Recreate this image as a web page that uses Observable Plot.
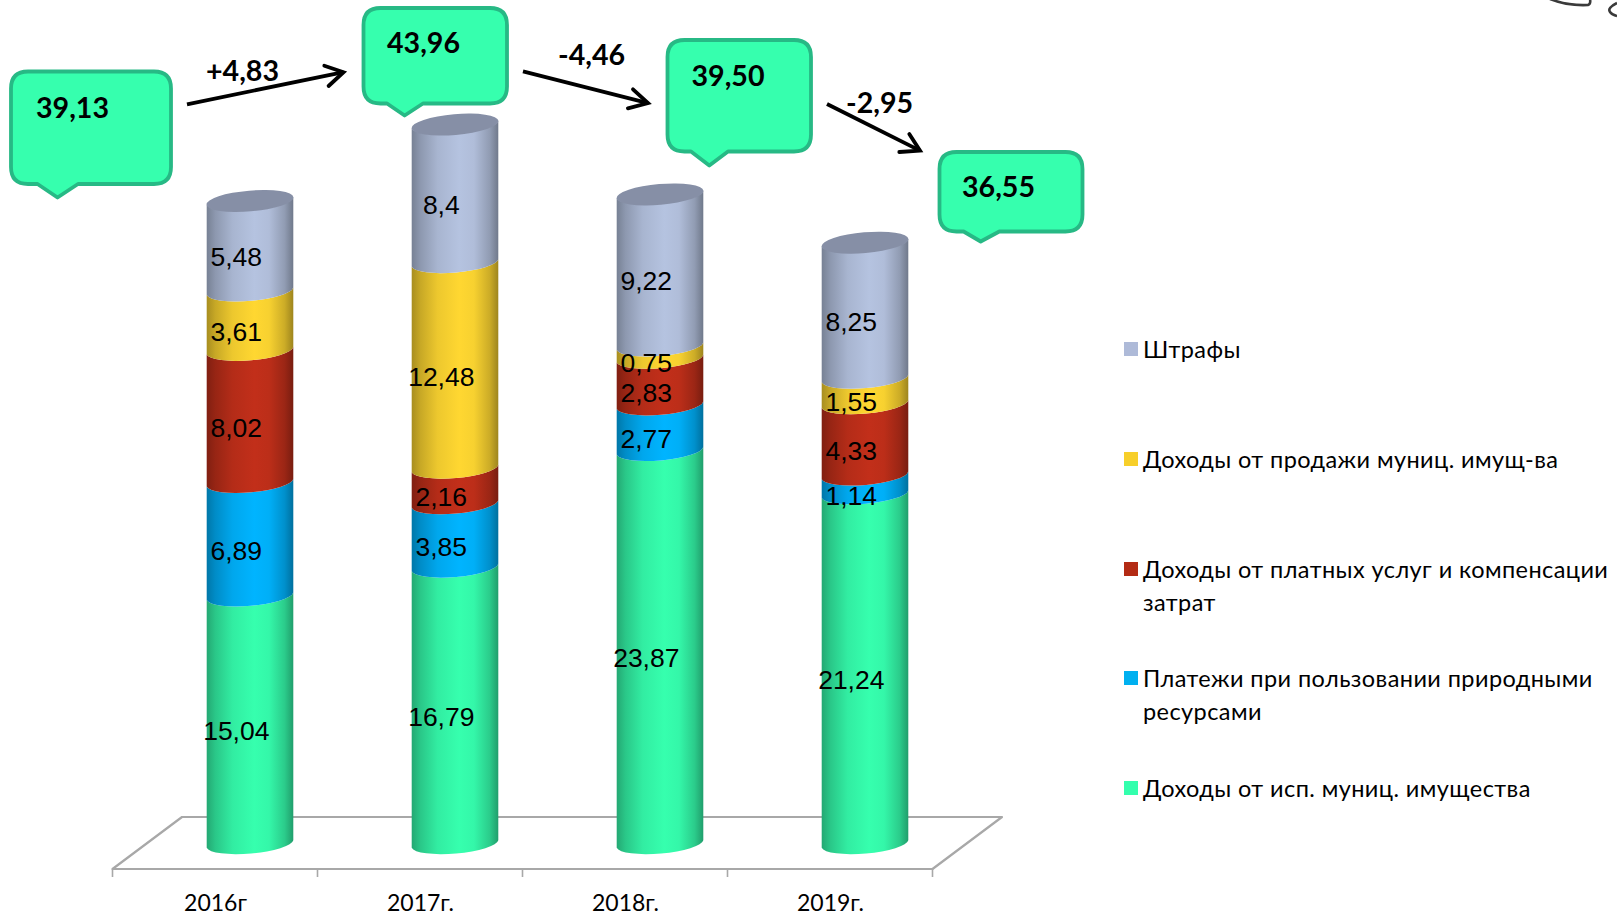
<!DOCTYPE html>
<html lang="ru">
<head>
<meta charset="utf-8">
<script src="https://cdn.jsdelivr.net/npm/d3@7"></script>
<script src="https://cdn.jsdelivr.net/npm/@observablehq/plot@0.6"></script>
<style>
html,body{margin:0;padding:0;background:#fff;overflow:hidden}
svg{display:block}
</style>
</head>
<body>
<div id="chart"></div>
<script>
const years = ["2016г", "2017г.", "2018г.", "2019г."];
const series = [
  "Доходы от исп. муниц. имущества",
  "Платежи при пользовании природными ресурсами",
  "Доходы от платных услуг и компенсации затрат",
  "Доходы от продажи муниц. имущ-ва",
  "Штрафы"
];
const municipalProperty = [15.04, 16.79, 23.87, 21.24];
const naturalResources = [6.89, 3.85, 2.77, 1.14];
const paidServices = [8.02, 2.16, 2.83, 4.33];
const propertySales = [3.61, 12.48, 0.75, 1.55];
const fines = [5.48, 8.4, 9.22, 8.25];
const totals = [39.13, 43.96, 39.50, 36.55];
const changes = ["+4,83", "-4,46", "-2,95"];

const seriesValues = [municipalProperty, naturalResources, paidServices, propertySales, fines];
const rows = seriesValues.flatMap((vals, s) =>
  vals.map((value, i) => ({year: years[i], series: series[s], value})));

const baseColors = ["#36FFAE", "#00B4FF", "#C22F1A", "#FFD731", "#B5C3E0"];
const legendColors = ["#33FFAD", "#00B0F0", "#B32B14", "#F7CF2A", "#AEBAD8"];
const gradId = i => `cyl-${i}`;

const sans = "Lato, Carlito, 'Noto Sans', sans-serif";
const COL_DX = 35;            // sideways shift of the columns on the 3D floor
const RX = 43.6, RY = 10.4, ROT = -4.9;
const EX = 43.3, EY = 3.8;    // arc end offset from the column axis

const svgEl = name => document.createElementNS("http://www.w3.org/2000/svg", name);

function shade(c, k) {
  const r = d3.rgb(c);
  return d3.rgb(r.r * k, r.g * k, r.b * k).formatHex();
}

function defsMark() {
  const defs = svgEl("defs");
  baseColors.forEach((c, i) => {
    const g = d3.select(defs).append("linearGradient").attr("id", gradId(i))
      .attr("x1", 0).attr("x2", 1).attr("y1", 0).attr("y2", 0);
    [[0, .66], [.1, .78], [.3, .93], [.55, 1], [.72, .97], [.9, .8], [1, .62]].forEach(([o, k]) =>
      g.append("stop").attr("offset", o).attr("stop-color", shade(c, k)));
  });
  return defs;
}

function floorMark(index, scales) {
  const g = d3.select(svgEl("g"));
  const step = scales.x.step();
  const x0 = scales.x(years[0]) - (step - scales.x.bandwidth()) / 2;
  const x1 = x0 + step * years.length;
  const yF = 869, depthX = 69.5, depthY = 52;
  g.append("path")
    .attr("d", `M${x0},${yF}L${x0 + depthX},${yF - depthY}L${x1 + depthX},${yF - depthY}L${x1},${yF}Z`)
    .attr("fill", "#fff").attr("stroke", "#a8a8a8").attr("stroke-width", 2.2).attr("stroke-linejoin", "round");
  for (let i = 0; i <= years.length; i++) {
    const x = x0 + i * step;
    g.append("line").attr("x1", x).attr("x2", x).attr("y1", yF).attr("y2", yF + 8)
      .attr("stroke", "#a8a8a8").attr("stroke-width", 1.6);
  }
  return g.node();
}

function cylinderRender(index, scales, values, dimensions, context, next) {
  const g = next(index, scales, values, dimensions, context);
  d3.select(g).selectAll("rect").each(function () {
    const x = +this.getAttribute("x"), w = +this.getAttribute("width");
    const y = +this.getAttribute("y"), h = +this.getAttribute("height");
    const cx = x + w / 2, yT = y, yB = y + h;
    const p = svgEl("path");
    p.setAttribute("d",
      `M${cx - EX},${yT + EY}A${RX},${RY} ${ROT} 0 0 ${cx + EX},${yT - EY}` +
      `L${cx + EX},${yB - EY}A${RX},${RY} ${ROT} 0 1 ${cx - EX},${yB + EY}Z`);
    p.setAttribute("fill", this.getAttribute("fill"));
    this.replaceWith(p);
  });
  return g;
}

function topFaces(index, scales) {
  const g = d3.select(svgEl("g"));
  years.forEach((yr, i) => {
    const sum = d3.sum(seriesValues, v => v[i]);
    const cx = scales.x(yr) + scales.x.bandwidth() / 2 + COL_DX;
    const cy = scales.y(sum);
    g.append("ellipse").attr("rx", RX).attr("ry", RY)
      .attr("transform", `translate(${cx},${cy}) rotate(${ROT})`)
      .attr("fill", "#868FA6");
  });
  return g.node();
}

function callouts() {
  const g = d3.select(svgEl("g")).attr("text-anchor", "start");
  const boxes = [
    {l: 11, r: 171, t: 71.5, b: 184, pl: 37.5, pr: 78, px: 57.5, py: 197.5, tx: 36, ty: 117.7},
    {l: 363.5, r: 507, t: 8, b: 103.5, pl: 387, pr: 423, px: 404.6, py: 115.5, tx: 387, ty: 52.5},
    {l: 667.5, r: 811, t: 40, b: 151.5, pl: 691, pr: 728, px: 709.3, py: 165.5, tx: 691.5, ty: 86},
    {l: 939.5, r: 1082.5, t: 152, b: 231.5, pl: 963.6, pr: 999.3, px: 980.7, py: 241.5, tx: 962, ty: 196.5}
  ];
  boxes.forEach((b, i) => {
    const r = 17;
    g.append("path").attr("d",
      `M${b.l + r},${b.t}H${b.r - r}Q${b.r},${b.t} ${b.r},${b.t + r}V${b.b - r}Q${b.r},${b.b} ${b.r - r},${b.b}` +
      `H${b.pr}L${b.px},${b.py}L${b.pl},${b.b}H${b.l + r}Q${b.l},${b.b} ${b.l},${b.b - r}V${b.t + r}Q${b.l},${b.t} ${b.l + r},${b.t}Z`)
      .attr("fill", "#36FFAE").attr("stroke", "#27B985").attr("stroke-width", 3.8).attr("stroke-linejoin", "round");
    g.append("text").attr("x", b.tx).attr("y", b.ty).text(totals[i].toFixed(2).replace(".", ","))
      .attr("font-family", sans).attr("font-weight", 700).attr("font-size", 28.6).attr("fill", "#000");
  });
  const arrows = [
    {d: "M187,104.3L343.5,72.2", h: "M324.3,65.7L343.5,72.2L328.6,86", tx: 206, ty: 80.8},
    {d: "M523,71.3L648,103.1", h: "M633,89.3L648,103.1L627.9,108.3", tx: 558, ty: 65},
    {d: "M827,104L920,150.6", h: "M909.3,134L920,150.6L899.3,152", tx: 846, ty: 112.7}
  ];
  arrows.forEach((a, i) => {
    g.append("path").attr("d", a.d).attr("fill", "none").attr("stroke", "#000").attr("stroke-width", 3.8);
    g.append("path").attr("d", a.h).attr("fill", "none").attr("stroke", "#000").attr("stroke-width", 3.8)
      .attr("stroke-linecap", "round").attr("stroke-linejoin", "miter");
    g.append("text").attr("x", a.tx).attr("y", a.ty).text(changes[i])
      .attr("font-family", sans).attr("font-weight", 700).attr("font-size", 28.6).attr("fill", "#000");
  });
  return g.node();
}

function wrapLabel(s, limit) {
  const lines = [];
  let cur = "";
  s.split(" ").forEach(w => {
    const next = cur ? cur + " " + w : w;
    if (next.length > limit) { lines.push(cur); cur = w; } else cur = next;
  });
  lines.push(cur);
  return lines;
}

function legendMark() {
  const g = d3.select(svgEl("g")).attr("text-anchor", "start");
  const baselines = [357.7, 467.7, 577.7, 686.7, 796.7];
  series.slice().reverse().forEach((s, i) => {
    const y = baselines[i];
    g.append("rect").attr("x", 1124).attr("y", y - 15.7).attr("width", 14).attr("height", 14)
      .attr("fill", legendColors[series.length - 1 - i]);
    wrapLabel(s, 38).forEach((line, k) => {
      g.append("text").attr("x", 1143).attr("y", y + k * 33).text(line)
        .attr("font-family", sans).attr("font-size", 23.5).attr("fill", "#000")
        .attr("letter-spacing", "0.42px");
    });
  });
  return g.node();
}

function scribble() {
  const g = d3.select(svgEl("g"));
  g.append("path").attr("d", "M1550,-1Q1568,6 1588,5Q1591,4 1590,-1M1617,3Q1607,8 1610,12Q1612,15 1617,16")
    .attr("fill", "none").attr("stroke", "#3a3a3a").attr("stroke-width", 2.6);
  return g.node();
}

const chart = Plot.plot({
  width: 1617,
  height: 916,
  marginTop: 0, marginRight: 0, marginLeft: 0, marginBottom: 47,
  style: {background: "#fff", overflow: "visible"},
  x: {type: "band", domain: years, range: [113, 933], paddingInner: 0.58, paddingOuter: 0.29, align: 0.5, axis: null},
  y: {domain: [0, 844 / 16.47], range: [844, 0], axis: null},
  color: {type: "ordinal", domain: series, range: series.map((s, i) => `url(#${gradId(i)})`)},
  marks: [
    defsMark,
    floorMark,
    Plot.axisX({
      anchor: "bottom", label: null, tickSize: 0, tickPadding: 25,
      fontSize: 23, fontFamily: sans, fill: "#000", color: "#000"
    }),
    Plot.barY(rows, Plot.stackY({
      x: "year", y: "value", z: "series", fill: "series", dx: COL_DX,
      render: cylinderRender
    })),
    topFaces,
    Plot.text(rows, Plot.stackY({
      x: "year", y: "value", z: "series",
      text: d => String(d.value).replace(".", ","),
      dx: COL_DX - 14.2, dy: 11,
      fontSize: 26.5, fontFamily: "'Liberation Sans', Arial, sans-serif", fill: "#000"
    })),
    callouts,
    legendMark,
    scribble
  ]
});
document.getElementById("chart").appendChild(chart);
</script>
</body>
</html>
